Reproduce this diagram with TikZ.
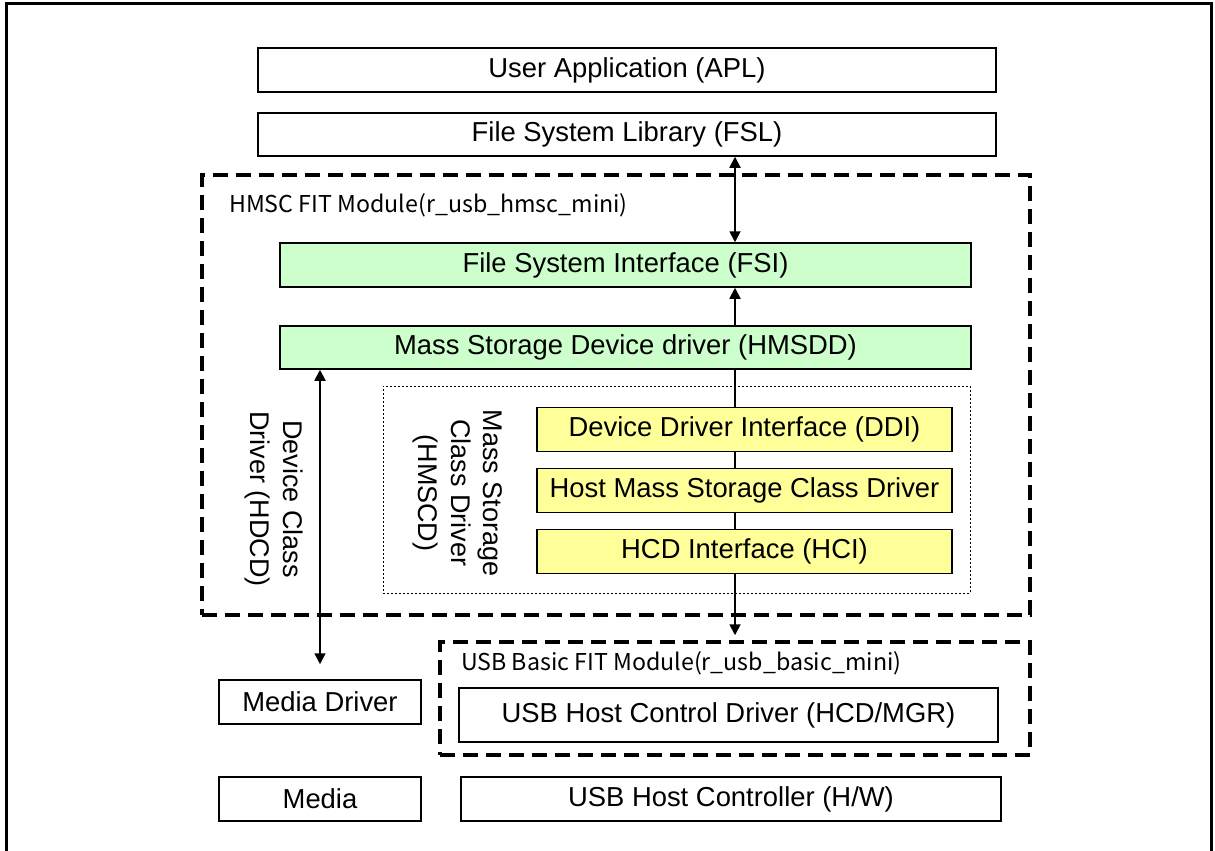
\documentclass[tikz,border=0pt]{standalone}
\usepackage{fontspec}
\setmainfont{Liberation Sans}
\newfontfamily\jpfont{Noto Sans CJK JP}
\usetikzlibrary{arrows.meta}
\definecolor{grn}{HTML}{CCFFCC}
\definecolor{ylw}{HTML}{FFFF99}
\begin{document}
\begin{tikzpicture}[x=1pt,y=-1pt,
  >={Triangle[length=11pt,width=11pt]},
  box/.style={draw,line width=1.5pt,inner sep=0pt,font=\fontsize{27.4}{31}\selectfont},
  greenbox/.style={box,fill=grn},
  yellowbox/.style={box,fill=ylw},
  dashbox/.style={draw,line width=3.5pt,dash pattern=on 15pt off 8pt,inner sep=0pt},
  dotbox/.style={draw,line width=1pt,dash pattern=on 2pt off 2pt,inner sep=0pt},
  title/.style={anchor=west,inner sep=0pt,font=\jpfont\fontsize{23.2}{26}\selectfont},
  vlabel/.style={rotate=-90,align=center,inner sep=0pt,font=\fontsize{27}{32.5}\selectfont},
  arr/.style={line width=1.8pt}]
\useasboundingbox (0,0) rectangle (1215,851);
\draw[line width=3pt] (6,4) rectangle (1211,880);
% containers
\node[dashbox,minimum width=828pt,minimum height=440pt] (hmsc) at (616,395) {};
\node[title] (hmsct) at (229,205) {HMSC FIT Module(r\_usb\_hmsc\_mini)};
\node[dotbox,minimum width=587pt,minimum height=207pt] (hmscdbox) at (676.5,489.5) {};
\node[dashbox,minimum width=590pt,minimum height=113pt] (usbb) at (735,698.5) {};
\node[title] (usbbt) at (461,663) {USB Basic FIT Module(r\_usb\_basic\_mini)};
% boxes
\node[box,minimum width=738pt,minimum height=44pt] (apl) at (627,70) {User Application (APL)};
\node[box,minimum width=738pt,minimum height=43pt] (fsl) at (627,134.5) {File System Library (FSL)};
\node[greenbox,minimum width=691pt,minimum height=44pt] (fsi) at (625.5,265) {File System Interface (FSI)};
\node[greenbox,minimum width=691pt,minimum height=43pt] (hmsdd) at (625.5,347.5) {Mass Storage Device driver (HMSDD)};
\node[yellowbox,minimum width=415pt,minimum height=44pt] (ddi) at (744.5,429.5) {Device Driver Interface (DDI)};
\node[yellowbox,minimum width=415pt,minimum height=44pt] (hmscd) at (744.5,490.5) {Host Mass Storage Class Driver};
\node[yellowbox,minimum width=415pt,minimum height=44pt] (hci) at (744.5,551.5) {HCD Interface (HCI)};
\node[box,minimum width=539pt,minimum height=54pt] (hcd) at (728.5,715) {USB Host Control Driver (HCD/MGR)};
\node[box,minimum width=202pt,minimum height=44pt] (mdrv) at (320,702) {Media Driver};
\node[box,minimum width=202pt,minimum height=44pt] (media) at (320,799) {Media};
\node[box,minimum width=540pt,minimum height=44pt] (hw) at (731,799) {USB Host Controller (H/W)};
% rotated labels
\node[vlabel] (hdcdl) at (274,499) {Device Class\\Driver (HDCD)};
\node[vlabel] (hmscdl) at (458,493) {Mass Storage\\Class Driver\\(HMSCD)};
% connectors
\coordinate (axis) at (735,0);
\draw[arr,<->] (fsl.south -| axis) -- (fsi.north -| axis);
\draw[arr,->] (hmsdd.north -| axis) -- (fsi.south -| axis);
\draw[arr] (hmsdd.south -| axis) -- (ddi.north -| axis);
\draw[arr] (ddi.south -| axis) -- (hmscd.north -| axis);
\draw[arr] (hmscd.south -| axis) -- (hci.north -| axis);
\draw[arr,->,shorten >=5pt] (hci.south -| axis) -- (usbb.north);
\draw[arr,<->,shorten >=15pt] (hmsdd.south -| mdrv.north) -- (mdrv.north);
\end{tikzpicture}
\end{document}
